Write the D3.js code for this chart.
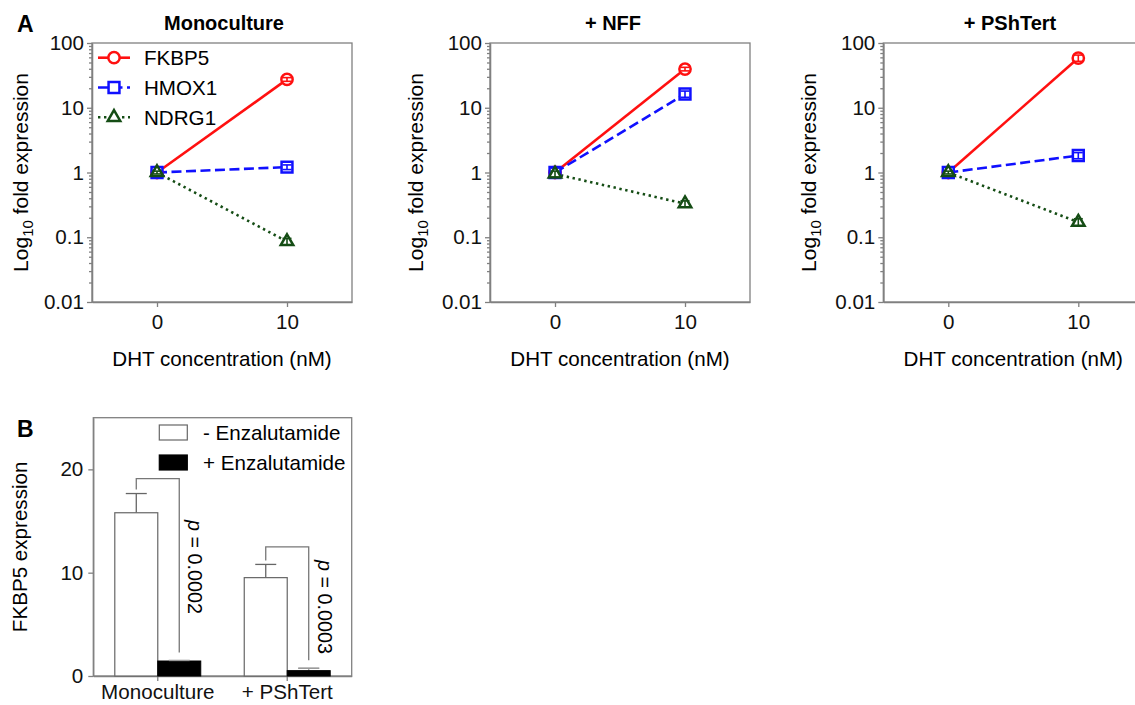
<!DOCTYPE html>
<html><head><meta charset="utf-8">
<script src="https://cdn.jsdelivr.net/npm/d3@7"></script>
<style>
body{margin:0;background:#fff;}
svg{display:block;font-family:"Liberation Sans",Arial,Helvetica,sans-serif;}
</style></head><body>
<svg id="chart" width="1135" height="705"></svg>
<script>
// ---------- Data: panel A ----------
const panelTitles = ["Monoculture", "+ NFF", "+ PShTert"];
const doses = [0, 10];
const genes = ["FKBP5", "HMOX1", "NDRG1"];
const fkbp5Mean = [[1.0, 27.4], [1.0, 39.6], [1.0, 58.6]];
const fkbp5Err  = [[0.05, 1.8], [0.05, 2.5], [0.05, 6.5]];
const hmox1Mean = [[1.0, 1.21], [1.0, 16.3], [1.0, 1.83]];
const hmox1Err  = [[0.07, 0.1], [0.17, 1.8], [0.06, 0.2]];
const ndrg1Mean = [[1.0, 0.086], [0.95, 0.33], [1.0, 0.171]];
const ndrg1Err  = [[0.05, 0.01], [0.1, 0.035], [0.05, 0.022]];
const yTicksA = [0.01, 0.1, 1, 10, 100];
const yTickLabelsA = ["0.01", "0.1", "1", "10", "100"];
const xTicksA = [0, 10];

// ---------- Data: panel B ----------
const groupsB = ["Monoculture", "+ PShTert"];
const seriesB = ["- Enzalutamide", "+ Enzalutamide"];
const minusEnzMean = [15.8, 9.52];
const minusEnzErr  = [1.86, 1.28];
const plusEnzMean  = [1.45, 0.52];
const plusEnzErr   = [0.05, 0.23];
const pValuesB     = ["0.0002", "0.0003"];
const bracketTopB  = [19.1, 12.5];
const yTicksB = [0, 10, 20];

// ---------- Styles / layout ----------
const svg = d3.select("#chart");
const AX = "#808080";
const FS = 20.6;
const geneMeans = [fkbp5Mean, hmox1Mean, ndrg1Mean];
const geneErrs = [fkbp5Err, hmox1Err, ndrg1Err];
const geneStyle = [
  {color: "#ff1010", dash: null, symbol: d3.symbolCircle, size: 100},
  {color: "#1010ff", dash: "10,4.5", symbol: d3.symbolSquare, size: 118},
  {color: "#154d15", dash: "2.4,3.6", symbol: d3.symbolTriangle, size: 68}
];
const panelLeft = [92, 490, 883.3];
const yTitleX = [28, 422.5, 816];
const titleX = [224, 613, 1010];
const pw = 260, plotTop = 43, ph = 259;

function styleAxis(g) {
  g.selectAll("path.domain").attr("stroke", AX).attr("stroke-width", 1.3);
  g.selectAll(".tick line").attr("stroke", AX).attr("stroke-width", 1.3);
  g.selectAll(".tick text").attr("fill", "#111").style("font-size", FS + "px")
    .style("font-family", "'Liberation Sans',Arial,sans-serif");
}

panelTitles.forEach((title, p) => {
  const left = panelLeft[p];
  const x = d3.scaleLinear().domain([-5, 15]).range([left, left + pw]);
  const y = d3.scaleLog().domain([0.01, 100]).range([plotTop + ph, plotTop]);
  const g = svg.append("g");

  // frame
  g.append("rect").attr("x", left).attr("y", plotTop).attr("width", pw).attr("height", ph)
    .attr("fill", "none").attr("stroke", AX).attr("stroke-width", 1.3);

  // minor ticks
  const minor = y.ticks().filter(v => !yTicksA.some(t => Math.abs(t - v) < 1e-12));
  const gm = g.append("g").attr("transform", `translate(${left},0)`)
    .call(d3.axisLeft(y).tickValues(minor).tickSize(3).tickSizeOuter(0).tickFormat(""));
  styleAxis(gm);
  // major ticks
  const gy = g.append("g").attr("transform", `translate(${left},0)`)
    .call(d3.axisLeft(y).tickValues(yTicksA).tickSize(5).tickPadding(3).tickSizeOuter(0)
      .tickFormat((d, i) => yTickLabelsA[i]));
  styleAxis(gy);
  const gx = g.append("g").attr("transform", `translate(0,${plotTop + ph})`)
    .call(d3.axisBottom(x).tickValues(xTicksA).tickSize(5).tickPadding(7).tickSizeOuter(0));
  styleAxis(gx);

  // titles
  g.append("text").attr("x", titleX[p]).attr("y", 30).attr("text-anchor", "middle")
    .style("font-weight", "bold").style("font-size", "20px").text(title);
  g.append("text").attr("x", left + pw / 2).attr("y", 366).attr("text-anchor", "middle")
    .style("font-size", FS + "px").text("DHT concentration (nM)");
  const yt = g.append("text")
    .attr("transform", `translate(${yTitleX[p]},${plotTop + ph / 2}) rotate(-90)`)
    .attr("text-anchor", "middle").style("font-size", "21px");
  yt.append("tspan").text("Log");
  yt.append("tspan").attr("dy", 5).style("font-size", "15px").text("10");
  yt.append("tspan").attr("dy", -5).text(" fold expression");

  // series
  genes.forEach((gene, k) => {
    const st = geneStyle[k];
    const pts = doses.map((d, i) => ({d, m: geneMeans[k][p][i], e: geneErrs[k][p][i]}));
    g.append("path").datum(pts)
      .attr("d", d3.line().x(v => x(v.d)).y(v => y(v.m)))
      .attr("fill", "none").attr("stroke", st.color).attr("stroke-width", 2.6)
      .attr("stroke-dasharray", st.dash);
  });
  genes.forEach((gene, k) => {
    const st = geneStyle[k];
    const pts = doses.map((d, i) => ({d, m: geneMeans[k][p][i], e: geneErrs[k][p][i]}));
    g.selectAll(null).data(pts).enter().append("path")
      .attr("d", d3.symbol().type(st.symbol).size(st.size))
      .attr("transform", v => `translate(${x(v.d)},${y(v.m)})`)
      .attr("fill", "#fff").attr("stroke", st.color).attr("stroke-width", 2.5);
    const eb = g.selectAll(null).data(pts).enter().append("g").attr("stroke", st.color).attr("stroke-width", 1.6);
    eb.append("line").attr("x1", v => x(v.d)).attr("x2", v => x(v.d))
      .attr("y1", v => y(v.m - v.e)).attr("y2", v => y(v.m + v.e));
    eb.append("line").attr("x1", v => x(v.d) - 4.5).attr("x2", v => x(v.d) + 4.5)
      .attr("y1", v => y(v.m + v.e)).attr("y2", v => y(v.m + v.e));
    eb.append("line").attr("x1", v => x(v.d) - 4.5).attr("x2", v => x(v.d) + 4.5)
      .attr("y1", v => y(v.m - v.e)).attr("y2", v => y(v.m - v.e));
  });

  // legend (first panel only)
  if (p === 0) {
    genes.forEach((gene, k) => {
      const st = geneStyle[k];
      const ly = 57.7 + k * 29.8;
      g.append("line").attr("x1", 98).attr("x2", 130).attr("y1", ly).attr("y2", ly)
        .attr("stroke", st.color).attr("stroke-width", 2.6).attr("stroke-dasharray", st.dash);
      g.append("path").attr("d", d3.symbol().type(st.symbol).size(st.size)())
        .attr("transform", `translate(114,${ly})`)
        .attr("fill", "#fff").attr("stroke", st.color).attr("stroke-width", 2.5);
      g.append("text").attr("x", 144).attr("y", ly).attr("dy", "0.35em")
        .style("font-size", FS + "px").text(gene);
    });
  }
});

svg.append("text").attr("x", 17).attr("y", 32).style("font-weight", "bold").style("font-size", "23px").text("A");
svg.append("text").attr("x", 17).attr("y", 437).style("font-weight", "bold").style("font-size", "23px").text("B");

// ---------- Panel B ----------
(function () {
  const L = 93.3, R = 351.7, T = 417.7, B = 676;
  const g = svg.append("g");
  const x0 = d3.scaleBand().domain(groupsB).range([L, R]).paddingInner(0.336).paddingOuter(0.166);
  const x1 = d3.scaleBand().domain(seriesB).range([0, x0.bandwidth()]).padding(0);
  const y = d3.scaleLinear().domain([0, 25]).range([B, T]);

  g.append("rect").attr("x", L).attr("y", T).attr("width", R - L).attr("height", B - T)
    .attr("fill", "none").attr("stroke", AX).attr("stroke-width", 1.3);
  const gy = g.append("g").attr("transform", `translate(${L},0)`)
    .call(d3.axisLeft(y).tickValues(yTicksB).tickSize(5).tickPadding(5).tickSizeOuter(0));
  styleAxis(gy);
  const gx = g.append("g").attr("transform", `translate(0,${B})`)
    .call(d3.axisBottom(x0).tickSize(5).tickPadding(3.5).tickSizeOuter(0));
  styleAxis(gx);

  g.append("text").attr("transform", `translate(27,${(T + B) / 2}) rotate(-90)`)
    .attr("text-anchor", "middle").style("font-size", FS + "px").text("FKBP5 expression");

  groupsB.forEach((grp, i) => {
    const gx0 = x0(grp);
    const xw = gx0 + x1(seriesB[0]), xb = gx0 + x1(seriesB[1]), bw = x1.bandwidth();
    const cw = xw + bw / 2, cb = xb + bw / 2;
    // error bars
    [[cw, minusEnzMean[i], minusEnzErr[i], "#666"], [cb, plusEnzMean[i], plusEnzErr[i], "#999"]].forEach(([cx, m, e, col]) => {
      g.append("line").attr("x1", cx).attr("x2", cx).attr("y1", y(m)).attr("y2", y(m + e))
        .attr("stroke", col).attr("stroke-width", 1.3);
      g.append("line").attr("x1", cx - 10.5).attr("x2", cx + 10.5).attr("y1", y(m + e)).attr("y2", y(m + e))
        .attr("stroke", col).attr("stroke-width", 1.3);
    });
    g.append("rect").attr("x", xw).attr("y", y(minusEnzMean[i])).attr("width", bw)
      .attr("height", y(0) - y(minusEnzMean[i])).attr("fill", "#fff").attr("stroke", "#666").attr("stroke-width", 1.2);
    g.append("rect").attr("x", xb).attr("y", y(plusEnzMean[i])).attr("width", bw)
      .attr("height", y(0) - y(plusEnzMean[i])).attr("fill", "#000").attr("stroke", "#000").attr("stroke-width", 1);
    g.append("line").attr("x1", cb - 10.5).attr("x2", cb + 10.5)
      .attr("y1", y(plusEnzMean[i] + plusEnzErr[i])).attr("y2", y(plusEnzMean[i] + plusEnzErr[i]))
      .attr("stroke", "#999").attr("stroke-width", 1.3);
    // bracket
    const by = y(bracketTopB[i]);
    const yl = y(minusEnzMean[i] + minusEnzErr[i]) - 4;
    const yr = y(plusEnzMean[i] + plusEnzErr[i]) - 8;
    g.append("path").attr("d", `M${cw},${yl}V${by}H${cb}V${yr}`)
      .attr("fill", "none").attr("stroke", "#777").attr("stroke-width", 1.3);
    // p label
    const ty = [520, 560][i];
    const t = g.append("text").attr("transform", `translate(${cb + 9},${ty}) rotate(90)`)
      .style("font-size", "19.8px");
    t.append("tspan").style("font-style", "italic").text("p");
    t.append("tspan").text(" = " + pValuesB[i]);
  });

  // legend
  const lyB = [425, 455];
  seriesB.forEach((s, k) => {
    g.append("rect").attr("x", 159.3).attr("y", lyB[k]).attr("width", 28).attr("height", 15)
      .attr("fill", k === 0 ? "#fff" : "#000").attr("stroke", k === 0 ? "#666" : "#000").attr("stroke-width", 1.2);
    g.append("text").attr("x", 203).attr("y", lyB[k] + 7.5).attr("dy", "0.35em")
      .style("font-size", FS + "px").text(s);
  });
})();
</script>
</body></html>
